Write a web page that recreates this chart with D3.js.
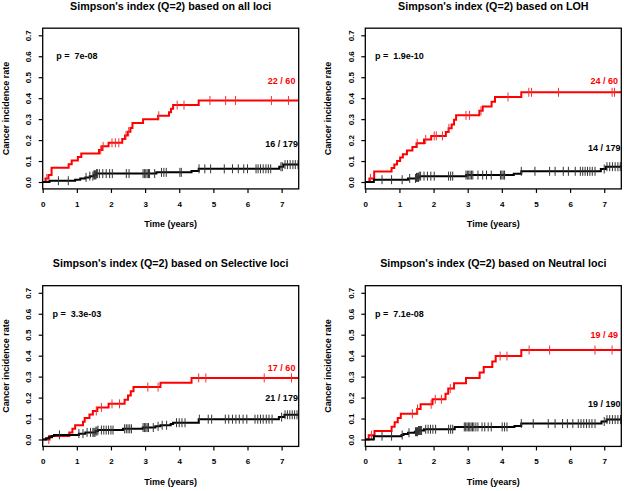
<!DOCTYPE html>
<html><head><meta charset="utf-8">
<script src="https://cdn.jsdelivr.net/npm/d3@7"></script>
<style>
body{margin:0;background:#fff}
text{font-family:"Liberation Sans",Arial,Helvetica,sans-serif;font-weight:bold;fill:#000}
</style>
</head><body><svg id="chart" width="624" height="491"></svg>
<script>
// ---------- DATA ----------
const titles = [
  "Simpson's index (Q=2) based on all loci",
  "Simpson's index (Q=2) based on LOH",
  "Simpson's index (Q=2) based on Selective loci",
  "Simpson's index (Q=2) based on Neutral loci"
];
const pValues = ["p =  7e-08", "p =  1.9e-10", "p =  3.3e-03", "p =  7.1e-08"];
const redCounts = ["22 / 60", "24 / 60", "17 / 60", "19 / 49"];
const blackCounts = ["16 / 179", "14 / 179", "21 / 179", "19 / 190"];
const redLabelY = [0.485, 0.485, 0.34, 0.50];
const blackLabelY = [0.18, 0.165, 0.197, 0.168];
const xTicks = [0, 1, 2, 3, 4, 5, 6, 7];
const yTicks = [0, 0.1, 0.2, 0.3, 0.4, 0.5, 0.6, 0.7];
const xLabel = "Time (years)";
const yLabel = "Cancer incidence rate";
const followUpEnd = 7.5;

// all loci
const allRedSteps = [[0.08,0.017],[0.17,0.034],[0.26,0.068],[0.76,0.085],[0.85,0.102],[1.03,0.119],[1.13,0.136],[1.65,0.153],[1.74,0.170],[1.93,0.187],[2.33,0.205],[2.41,0.222],[2.49,0.240],[2.57,0.258],[2.63,0.282],[2.94,0.300],[3.38,0.316],[3.70,0.333],[3.76,0.350],[3.82,0.367],[4.57,0.389]];
const allRedCensor = [0.12,1.70,1.77,2.03,2.13,2.23,2.44,2.52,3.40,3.94,4.14,4.90,5.36,5.65,6.70,7.20];
const allBlackSteps = [[0.2,0.006],[0.95,0.011],[1.1,0.017],[1.25,0.022],[1.38,0.028],[1.5,0.034],[1.57,0.040],[3.33,0.046],[4.36,0.052],[4.57,0.063],[6.93,0.073],[7.05,0.083]];
const allBlackCensor = [0.46,0.75,1.27,1.38,1.47,1.50,1.52,1.54,1.56,1.58,1.60,1.66,1.76,1.86,1.96,2.04,2.45,2.53,2.94,2.98,3.02,3.06,3.10,3.13,3.28,3.48,3.55,3.62,4.02,4.06,4.58,4.75,4.92,5.32,5.56,5.73,5.89,6.00,6.25,6.31,6.38,6.46,6.54,6.61,6.68,6.98,7.02,7.10,7.17,7.25,7.33,7.40,7.48];

// LOH
const lohRedSteps = [[0.12,0.017],[0.26,0.05],[0.77,0.067],[0.85,0.083],[0.93,0.100],[1.02,0.117],[1.1,0.133],[1.22,0.15],[1.38,0.167],[1.5,0.185],[1.72,0.203],[1.93,0.22],[2.36,0.238],[2.44,0.256],[2.53,0.274],[2.6,0.297],[2.66,0.318],[3.34,0.34],[3.44,0.36],[3.7,0.383],[3.8,0.406],[4.57,0.428]];
const lohRedCensor = [0.15,1.52,1.77,2.02,2.08,2.26,2.45,2.95,3.05,3.39,4.18,4.79,4.87,5.66,7.23,7.30];
const lohBlackSteps = [[0.25,0.011],[1.25,0.017],[1.5,0.022],[1.58,0.028],[2.95,0.033],[4.35,0.039],[4.57,0.051],[6.9,0.062],[7.05,0.073]];
const lohBlackCensor = [0.49,0.77,1.08,1.30,1.47,1.50,1.52,1.54,1.56,1.58,1.62,1.72,1.82,1.92,2.02,2.44,2.50,2.56,2.95,2.99,3.03,3.07,3.11,3.15,3.30,3.44,3.55,3.69,3.96,4.00,4.04,4.08,4.57,4.97,5.40,5.56,5.80,5.95,6.15,6.30,6.37,6.44,6.51,6.58,6.65,6.73,7.00,7.08,7.16,7.24,7.32,7.40,7.47];

// Selective loci
const selRedSteps = [[0.2,0.017],[0.78,0.034],[0.87,0.051],[0.95,0.068],[1.18,0.085],[1.23,0.102],[1.37,0.119],[1.47,0.136],[1.6,0.153],[1.93,0.170],[2.4,0.19],[2.5,0.21],[2.58,0.23],[2.66,0.25],[3.45,0.271],[4.36,0.294]];
const selRedCensor = [0.18,1.57,1.72,2.03,2.25,3.08,3.38,4.57,4.78,6.49,7.29];
const selBlackSteps = [[0.1,0.006],[0.18,0.011],[0.27,0.017],[0.33,0.022],[1.06,0.028],[1.25,0.034],[1.55,0.04],[1.62,0.045],[2.35,0.051],[2.93,0.057],[3.3,0.063],[3.45,0.068],[3.75,0.074],[3.82,0.08],[4.57,0.097],[6.92,0.107],[7.08,0.118]];
const selBlackCensor = [0.49,1.06,1.18,1.30,1.40,1.47,1.50,1.53,1.56,1.59,1.62,1.72,1.79,1.86,1.93,2.00,2.06,2.40,2.45,2.50,2.55,2.60,2.94,2.98,3.02,3.06,3.10,3.24,3.38,3.50,3.63,3.92,4.00,4.08,4.17,4.59,4.85,4.95,5.35,5.45,5.56,5.66,5.76,5.87,5.98,6.22,6.30,6.38,6.46,6.55,6.63,6.72,7.00,7.10,7.17,7.24,7.31,7.38,7.45];

// Neutral loci
const neuRedSteps = [[0.1,0.02],[0.27,0.041],[0.77,0.061],[0.86,0.082],[0.95,0.102],[1.04,0.123],[1.52,0.145],[1.62,0.168],[1.97,0.192],[2.35,0.218],[2.43,0.243],[2.6,0.268],[2.95,0.293],[3.35,0.32],[3.47,0.346],[3.72,0.372],[3.82,0.398],[4.57,0.427]];
const neuRedCensor = [0.18,1.38,1.53,1.93,2.05,2.23,2.49,3.95,4.15,4.80,5.40,6.73,7.23];
const neuBlackSteps = [[0.25,0.016],[1.06,0.021],[1.12,0.026],[1.25,0.032],[1.45,0.037],[1.55,0.043],[1.72,0.049],[2.62,0.06],[4.37,0.065],[4.57,0.076],[6.92,0.086],[7.07,0.095]];
const neuBlackCensor = [0.49,0.77,1.08,1.28,1.47,1.50,1.53,1.56,1.59,1.62,1.65,1.77,1.84,1.91,1.98,2.06,2.44,2.50,2.56,2.90,2.94,2.98,3.02,3.06,3.10,3.14,3.18,3.24,3.30,3.42,3.50,3.60,3.69,4.01,4.08,4.15,4.57,4.92,5.36,5.56,5.78,5.92,6.08,6.24,6.32,6.40,6.48,6.56,6.64,6.73,7.00,7.08,7.16,7.24,7.32,7.40,7.48];

const redStepsAll = [allRedSteps, lohRedSteps, selRedSteps, neuRedSteps];
const redCensorAll = [allRedCensor, lohRedCensor, selRedCensor, neuRedCensor];
const blackStepsAll = [allBlackSteps, lohBlackSteps, selBlackSteps, neuBlackSteps];
const blackCensorAll = [allBlackCensor, lohBlackCensor, selBlackCensor, neuBlackCensor];

// ---------- LAYOUT ----------
const layouts = [{x0:42.7,y0:182},{x0:365.3,y0:182},{x0:42.7,y0:439.5},{x0:365.3,y0:439.5}];
const plotW = 256, plotH07 = 146.7;
const svg = d3.select("#chart");

function stepVal(steps, t){ let v = 0; for (const [s, val] of steps) if (s <= t) v = val; return v; }

layouts.forEach((L, i) => {
  const x = d3.scaleLinear().domain([0, followUpEnd]).range([L.x0, L.x0 + plotW]);
  const y = d3.scaleLinear().domain([0, 0.7]).range([L.y0, L.y0 - plotH07]);
  const top = y(0.734), bottom = y(-0.033);
  const g = svg.append("g");

  function drawSeries(steps, censor, color, tickColor){
    const pts = [[0, 0], ...steps, [followUpEnd, steps[steps.length-1][1]]];
    g.append("path")
      .attr("d", d3.line().x(d => x(d[0])).y(d => y(d[1])).curve(d3.curveStepAfter)(pts))
      .attr("fill", "none").attr("stroke", color).attr("stroke-width", 2);
    g.append("g").selectAll("line").data(censor).enter().append("line")
      .attr("x1", t => x(t)).attr("x2", t => x(t))
      .attr("y1", t => y(stepVal(steps, t)) - 4.5)
      .attr("y2", t => y(stepVal(steps, t)) + 4.5)
      .attr("stroke", tickColor).attr("stroke-width", 1);
  }
  drawSeries(redStepsAll[i], redCensorAll[i], "#ff0000", "#ee3333");
  drawSeries(blackStepsAll[i], blackCensorAll[i], "#000000", "#333333");

  // box
  g.append("rect").attr("x", L.x0).attr("y", top).attr("width", plotW).attr("height", bottom - top)
    .attr("fill", "none").attr("stroke", "#000").attr("stroke-width", 1.3);

  // x axis
  const xa = g.append("g").attr("transform", `translate(0,${bottom})`)
    .call(d3.axisBottom(x).tickValues(xTicks).tickFormat(d3.format("d")).tickSize(4).tickPadding(8.2));
  xa.select(".domain").remove();
  xa.selectAll("line").attr("stroke-width", 1.2);
  xa.selectAll("text").style("font-size", "8px");
  // y axis
  const ya = g.append("g").attr("transform", `translate(${L.x0},0)`)
    .call(d3.axisLeft(y).tickValues(yTicks).tickFormat(d3.format(".1f")).tickSize(4));
  ya.select(".domain").remove();
  ya.selectAll("line").attr("stroke-width", 1.2);
  ya.selectAll("text").attr("x", null).attr("dy", null).attr("text-anchor", "middle")
    .attr("transform", "translate(-11.5,0) rotate(-90)").style("font-size", "8px");
  xa.attr("font-family", null); ya.attr("font-family", null);

  // titles
  g.append("text").attr("x", L.x0 + plotW / 2).attr("y", L.y0 - 172.5)
    .attr("text-anchor", "middle").style("font-size", "10.7px").text(titles[i]);
  g.append("text").attr("x", L.x0 + plotW / 2).attr("y", bottom + 38.3)
    .attr("text-anchor", "middle").style("font-size", "9px").text(xLabel);
  g.append("text").attr("transform", `translate(${L.x0 - 34},${(top + bottom) / 2}) rotate(-90)`)
    .attr("text-anchor", "middle").style("font-size", "9px").text(yLabel);

  // annotations
  g.append("text").attr("x", x(1)).attr("y", y(0.6)).attr("dy", "0.35em")
    .attr("text-anchor", "middle").style("font-size", "9px").style("white-space", "pre").text(pValues[i]);
  g.append("text").attr("x", x(7)).attr("y", y(redLabelY[i])).attr("dy", "0.35em")
    .attr("text-anchor", "middle").style("font-size", "9px").style("fill", "#ff0000").text(redCounts[i]);
  g.append("text").attr("x", x(7)).attr("y", y(blackLabelY[i])).attr("dy", "0.35em")
    .attr("text-anchor", "middle").style("font-size", "9px").text(blackCounts[i]);
});
</script>
</body></html>
